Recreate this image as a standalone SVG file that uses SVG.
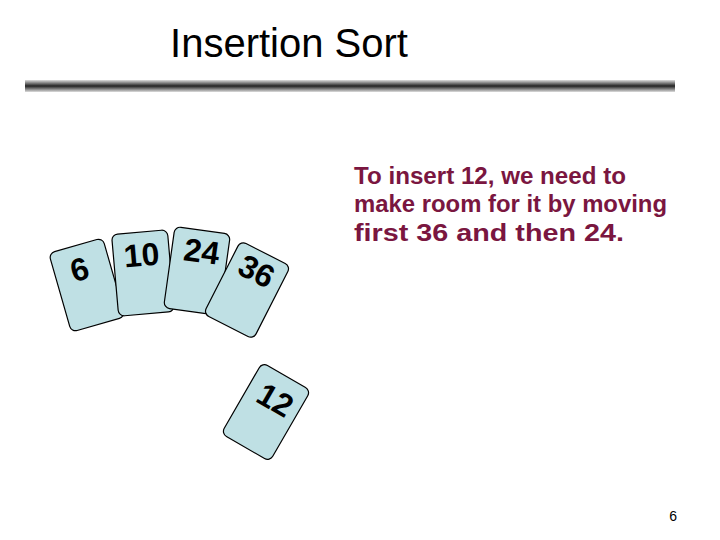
<svg xmlns="http://www.w3.org/2000/svg" width="720" height="540" viewBox="0 0 720 540">
<defs>
<linearGradient id="bar" x1="0" y1="0" x2="0" y2="1">
<stop offset="0" stop-color="#ddd"/><stop offset="0.5" stop-color="#222"/><stop offset="1" stop-color="#ddd"/>
</linearGradient>
<style>
.card{fill:#bfe0e4;stroke:#000;stroke-width:1.2}
.num{font-family:"Liberation Sans",Arial,sans-serif;font-weight:bold;font-size:32px;fill:#000;text-anchor:middle}
</style>
</defs>
<rect width="720" height="540" fill="#fff"/>
<text x="289" y="57" font-family="Liberation Sans,Arial,sans-serif" font-size="40" text-anchor="middle" fill="#000">Insertion Sort</text>
<rect x="25" y="80" width="650" height="12" fill="url(#bar)"/>
<g id="card6" transform="translate(87,285) rotate(-16)"><rect class="card" x="-28" y="-41" width="56" height="82" rx="6"/><text class="num" x="-3" y="-6">6</text></g>
<g id="card10" transform="translate(143,273) rotate(-5)"><rect class="card" x="-28" y="-41" width="56" height="82" rx="6"/><text class="num" x="0" y="-7">10</text></g>
<g id="card24" transform="translate(197,271) rotate(8)"><rect class="card" x="-28" y="-41" width="56" height="82" rx="6"/><text class="num" x="2" y="-9">24</text></g>
<g id="card36" transform="translate(247,290) rotate(27)"><rect class="card" x="-28" y="-41" width="56" height="82" rx="6"/><text class="num" x="0" y="-10">36</text></g>
<g id="card12" transform="translate(266,412) rotate(30)"><rect class="card" x="-28" y="-41" width="56" height="82" rx="6"/><text class="num" x="2" y="-4">12</text></g>
<g font-family="Liberation Sans,Arial,sans-serif" font-size="23" font-weight="bold" fill="#7a1640">
<text x="354" y="184" textLength="272" lengthAdjust="spacingAndGlyphs">To insert 12, we need to</text>
<text x="354" y="212" textLength="313" lengthAdjust="spacingAndGlyphs">make room for it by moving</text>
<text x="354" y="241" textLength="270" lengthAdjust="spacingAndGlyphs">first 36 and then 24.</text>
</g>
<text x="677" y="521" font-family="Liberation Sans,Arial,sans-serif" font-size="14" text-anchor="end">6</text>
</svg>
